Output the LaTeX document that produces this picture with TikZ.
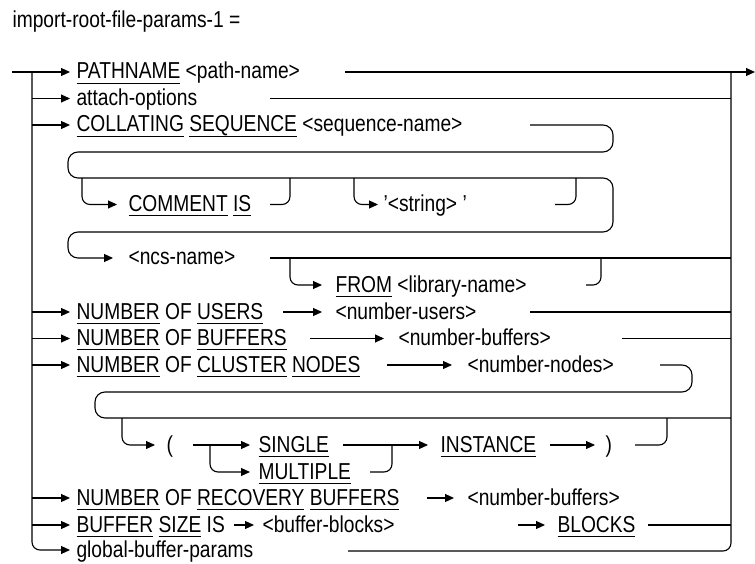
\documentclass[tikz,border=0pt]{standalone}
\usepackage{fontspec}
\usepackage{graphicx}
\setmainfont{Liberation Sans}
\usetikzlibrary{arrows.meta}
\newcommand\kw[1]{\setbox0\hbox{#1}\rlap{\rule[-3.6pt]{\wd0}{0.65pt}}\box0\relax}
\newcommand\tx[1]{\scalebox{1}[1.2]{#1}}
\begin{document}
\begin{tikzpicture}[x=1pt,y=-1pt,
  line width=1.1pt,
  txt/.style={anchor=base west, inner sep=0pt, font=\fontsize{19.2}{23}\selectfont},
  arr/.style={-{Triangle[length=9pt,width=8pt]}},
  rc/.style={rounded corners=8pt},
  rcb/.style={rounded corners=10pt}]
\useasboundingbox (0,0) rectangle (755,564);
% texts
\node[txt] (title) at (12,28) {\tx{import-root-file-params-1 =}};
\node[txt] (pathname) at (76,79) {\tx{\kw{PATHNAME} <path-name>}};
\node[txt] (attach) at (76,105.5) {\tx{attach-options}};
\node[txt] (collating) at (76,132) {\tx{\kw{COLLATING} \kw{SEQUENCE} <sequence-name>}};
\node[txt] (comment) at (128,211.5) {\tx{\kw{COMMENT} \kw{IS}}};
\node[txt] (string) at (383,211.5) {\tx{'<string> '}};
\node[txt] (ncs) at (128,265) {\tx{<ncs-name>}};
\node[txt] (from) at (335,292) {\tx{\kw{FROM} <library-name>}};
\node[txt] (users) at (76,319) {\tx{\kw{NUMBER} OF \kw{USERS}}};
\node[txt] (nusers) at (335,319) {\tx{<number-users>}};
\node[txt] (buffers) at (76,345.5) {\tx{\kw{NUMBER} OF \kw{BUFFERS}}};
\node[txt] (nbuffers) at (398,345.5) {\tx{<number-buffers>}};
\node[txt] (cluster) at (76,372) {\tx{\kw{NUMBER} OF \kw{CLUSTER} \kw{NODES}}};
\node[txt] (nnodes) at (467,372) {\tx{<number-nodes>}};
\node[txt] (lparen) at (166,452) {\tx{(}};
\node[txt] (single) at (258,452) {\tx{\kw{SINGLE}}};
\node[txt] (multiple) at (258,479) {\tx{\kw{MULTIPLE}}};
\node[txt] (instance) at (440,452) {\tx{\kw{INSTANCE}}};
\node[txt] (rparen) at (605,452) {\tx{)}};
\node[txt] (recovery) at (76,505) {\tx{\kw{NUMBER} OF \kw{RECOVERY} \kw{BUFFERS}}};
\node[txt] (nrbuf) at (467,505) {\tx{<number-buffers>}};
\node[txt] (bsize) at (76,532) {\tx{\kw{BUFFER} \kw{SIZE} IS}};
\node[txt] (bblocks) at (262,532) {\tx{<buffer-blocks>}};
\node[txt] (blocks) at (557,532) {\tx{\kw{BLOCKS}}};
\node[txt] (global) at (76,557) {\tx{global-buffer-params}};
% entry and trunk
\draw[arr] (12,72) -- (70,72);
\draw[arr,rc] (32,72) |- (70,550);
\foreach \y in {98.5,125,312,338.5,365,498,525} \draw[arr] (32,\y) -- (70,\y);
% exit rail
\draw[arr] (345,72) -- (755,72);
\draw[rc] (348,551) -| (731,72);
\draw (270,98.5) -- (731,98.5);
% collating / comment / ncs brackets
\draw[arr,rcb] (530,125) -- (613,125) -- (613,152) -- (68,152) -- (68,178) -- (613,178)
  -- (613,232) -- (68,232) -- (68,258) -- (113,258);
\draw[arr,rc] (82,178) |- (117,204.5);
\draw[rc] (270,204.5) -| (290,178);
\draw[arr,rc] (354,178) |- (378,204.5);
\draw[rc] (555,204.5) -| (576,178);
\draw (270,258) -- (731,258);
\draw[arr,rc] (290,258) |- (322,285);
\draw[rc] (586,285) -| (601,258);
% users, buffers
\draw[arr] (283,312) -- (322,312);
\draw (530,312) -- (731,312);
\draw[arr] (310,338.5) -- (384,338.5);
\draw (622,338.5) -- (731,338.5);
% cluster
\draw[arr] (387,365) -- (452,365);
\draw[rcb] (660,365) -- (692,365) -- (692,392) -- (95,392) -- (95,418) -- (731,418);
\draw[arr,rc] (122,418) |- (155,445);
\draw[arr] (193,445) -- (250,445);
\draw[arr,rc] (210,445) |- (250,472);
\draw[arr] (343,445) -- (428,445);
\draw[rc] (370,472) -| (392,445);
\draw[arr] (550,445) -- (595,445);
\draw[rc] (635,445) -| (667,418);
% recovery, buffer size
\draw[arr] (427,498) -- (454,498);
\draw[arr] (234,525) -- (254,525);
\draw[arr] (518,525) -- (545,525);
\draw (648,525) -- (731,525);
\end{tikzpicture}
\end{document}
